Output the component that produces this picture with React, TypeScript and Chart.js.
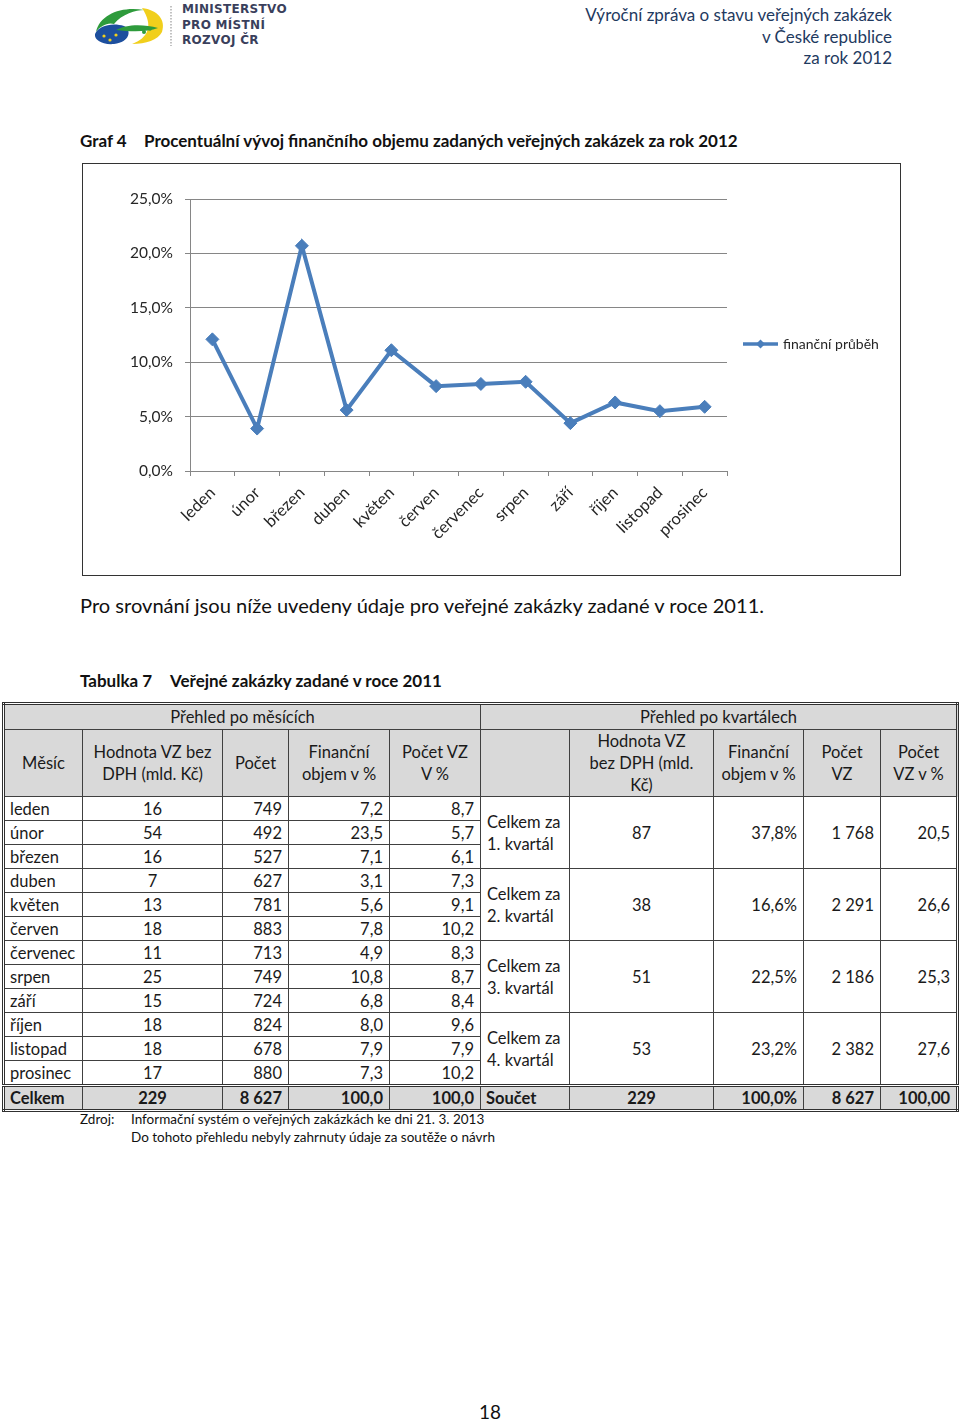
import React, { useEffect, useRef } from "react";
import { Chart, registerables } from "chart.js";

Chart.register(...registerables);

// ---------- chart data ----------
const months = ["leden", "únor", "březen", "duben", "květen", "červen", "červenec", "srpen", "září", "říjen", "listopad", "prosinec"];
const financialShare = [12.1, 3.9, 20.7, 5.6, 11.1, 7.8, 8.0, 8.2, 4.4, 6.3, 5.5, 5.9];
const seriesLabel = "finanční průběh";
const yMin = 0;
const yMax = 25;
const yStep = 5;

// ---------- table data (2011) ----------
const tableMonths = ["leden", "únor", "březen", "duben", "květen", "červen", "červenec", "srpen", "září", "říjen", "listopad", "prosinec"];
const monthValue = ["16", "54", "16", "7", "13", "18", "11", "25", "15", "18", "18", "17"];
const monthCount = ["749", "492", "527", "627", "781", "883", "713", "749", "724", "824", "678", "880"];
const monthFinPct = ["7,2", "23,5", "7,1", "3,1", "5,6", "7,8", "4,9", "10,8", "6,8", "8,0", "7,9", "7,3"];
const monthCountPct = ["8,7", "5,7", "6,1", "7,3", "9,1", "10,2", "8,3", "8,7", "8,4", "9,6", "7,9", "10,2"];
const quarterLabels = ["1. kvartál", "2. kvartál", "3. kvartál", "4. kvartál"];
const quarterValue = ["87", "38", "51", "53"];
const quarterFinPct = ["37,8%", "16,6%", "22,5%", "23,2%"];
const quarterCount = ["1 768", "2 291", "2 186", "2 382"];
const quarterCountPct = ["20,5", "26,6", "25,3", "27,6"];
const totalRow = ["Celkem", "229", "8 627", "100,0", "100,0", "Součet", "229", "100,0%", "8 627", "100,00"];

const FONT = "Lato, 'Noto Sans', 'DejaVu Sans', sans-serif";
const LINE_COLOR = "#4a7ebb";
const AXIS_COLOR = "#868686";
const TEXT_COLOR = "#262626";

const sideLegend = {
  id: "sideLegend",
  afterDraw(chart: any) {
    const ctx = chart.ctx;
    const area = chart.chartArea;
    const x0 = area.right + 16;
    const x1 = x0 + 35;
    const y = area.top + 145;
    ctx.save();
    ctx.strokeStyle = LINE_COLOR;
    ctx.lineWidth = 3.5;
    ctx.beginPath();
    ctx.moveTo(x0, y);
    ctx.lineTo(x1, y);
    ctx.stroke();
    const cx = (x0 + x1) / 2;
    ctx.fillStyle = LINE_COLOR;
    ctx.beginPath();
    ctx.moveTo(cx, y - 4.5);
    ctx.lineTo(cx + 4.5, y);
    ctx.lineTo(cx, y + 4.5);
    ctx.lineTo(cx - 4.5, y);
    ctx.closePath();
    ctx.fill();
    ctx.fillStyle = TEXT_COLOR;
    ctx.font = `14px ${FONT}`;
    ctx.textBaseline = "middle";
    ctx.textAlign = "left";
    ctx.fillText(chart.data.datasets[0].label, x1 + 5, y);
    ctx.restore();
  },
};

function LineChart() {
  const ref = useRef<HTMLCanvasElement>(null);
  useEffect(() => {
    if (!ref.current) return;
    const chart = new Chart(ref.current, {
      type: "line",
      data: {
        labels: months,
        datasets: [
          {
            label: seriesLabel,
            data: financialShare,
            borderColor: LINE_COLOR,
            backgroundColor: LINE_COLOR,
            borderWidth: 4,
            pointStyle: "rectRot",
            pointRadius: 6.5,
            pointBorderWidth: 1,
            pointBackgroundColor: LINE_COLOR,
            pointBorderColor: LINE_COLOR,
            tension: 0,
          },
        ],
      },
      options: {
        animation: false,
        responsive: false,
        maintainAspectRatio: false,
        layout: { padding: { left: 0, right: 172, top: 35, bottom: 0 } },
        plugins: { legend: { display: false }, tooltip: { enabled: false } },
        scales: {
          x: {
            offset: true,
            grid: { display: true, offset: true, drawOnChartArea: false, drawTicks: true, tickLength: 5, color: AXIS_COLOR },
            border: { display: true, color: AXIS_COLOR },
            ticks: { color: TEXT_COLOR, font: { family: FONT, size: 16.5 }, minRotation: 45, maxRotation: 45, padding: 7, autoSkip: false },
            afterFit: (s: any) => { s.height = 104; },
          },
          y: {
            min: yMin,
            max: yMax,
            ticks: {
              stepSize: yStep,
              color: TEXT_COLOR,
              font: { family: FONT, size: 15.5 },
              padding: 12,
              callback: (v: any) => Number(v).toFixed(1).replace(".", ",") + "%",
            },
            grid: { color: AXIS_COLOR, drawTicks: true, tickLength: 5 },
            border: { display: true, color: AXIS_COLOR },
            afterFit: (s: any) => { s.width = 107; },
          },
        },
      },
      plugins: [sideLegend],
    });
    return () => chart.destroy();
  }, []);
  return <canvas ref={ref} width={816} height={411} style={{ position: "absolute", left: 0, top: 0, width: 816, height: 411 }} />;
}

const abs = (left: number, top: number, extra: React.CSSProperties = {}): React.CSSProperties => ({
  position: "absolute",
  left,
  top,
  whiteSpace: "nowrap",
  ...extra,
});

function Logo() {
  return (
    <svg style={{ position: "absolute", left: 92, top: 2 }} width={80} height={46} viewBox="0 0 80 46">
      <path d="M4 30 C 8 12, 30 4, 52 8 C 44 8, 30 12, 22 22 C 16 20, 8 24, 4 30 Z" fill="#2e9b3c" />
      <path d="M3 32 C 6 24, 20 20, 32 24 C 40 28, 38 40, 22 42 C 10 43, 2 38, 3 32 Z" fill="#1d4f9e" />
      <path d="M50 6 C 66 8, 74 18, 70 30 C 66 38, 54 42, 40 42 C 56 36, 62 24, 50 6 Z" fill="#f1cf1c" />
      <path d="M24 28 C 34 22, 52 22, 66 26 C 56 30, 40 30, 24 28 Z" fill="#2e9b3c" />
      <circle cx="12" cy="34" r="1.6" fill="#f1cf1c" />
      <circle cx="18" cy="38" r="1.6" fill="#f1cf1c" />
      <circle cx="24" cy="33" r="1.6" fill="#f1cf1c" />
      <circle cx="52" cy="30" r="2" fill="#2e9b3c" />
      <circle cx="58" cy="27" r="1.8" fill="#2e9b3c" />
      <line x1="79" y1="4" x2="79" y2="44" stroke="#999" strokeWidth="1.2" strokeDasharray="1.5 1.5" />
    </svg>
  );
}

const cellBorder = "1px solid #404040";
const grey = "#d9d9d9";

function DataTable() {
  const td = (align: "left" | "center" | "right", extra: React.CSSProperties = {}): React.CSSProperties => ({
    border: cellBorder,
    textAlign: align,
    padding: align === "left" ? "0 0 0 5px" : align === "right" ? "0 6px 0 0" : "0",
    height: 23,
    lineHeight: "22px",
    verticalAlign: "middle",
    overflow: "hidden",
    whiteSpace: "nowrap",
    ...extra,
  });
  const th = (extra: React.CSSProperties = {}): React.CSSProperties => ({
    border: cellBorder,
    background: grey,
    fontWeight: "normal",
    textAlign: "center",
    verticalAlign: "middle",
    lineHeight: "22px",
    padding: 0,
    ...extra,
  });
  const colW = [79, 140, 66, 101, 91, 89, 144, 90, 77, 77];
  const totalAlign: ("left" | "center" | "right")[] = ["left", "center", "right", "right", "right", "left", "center", "right", "right", "right"];
  return (
    <table
      style={{
        position: "absolute",
        left: 2,
        top: 702,
        width: 956,
        borderCollapse: "collapse",
        tableLayout: "fixed",
        border: "3px double #303030",
        fontFamily: FONT,
        fontSize: 16.5,
        color: "#1a1a1a",
      }}
    >
      <colgroup>
        {colW.map((w, i) => (
          <col key={i} style={{ width: w }} />
        ))}
      </colgroup>
      <thead>
        <tr style={{ height: 25 }}>
          <th colSpan={5} style={th({ height: 24 })}>Přehled po měsících</th>
          <th colSpan={5} style={th({ height: 24 })}>Přehled po kvartálech</th>
        </tr>
        <tr style={{ height: 66 }}>
          <th style={th()}>Měsíc</th>
          <th style={th()}>Hodnota VZ bez<br />DPH (mld. Kč)</th>
          <th style={th()}>Počet</th>
          <th style={th()}>Finanční<br />objem v %</th>
          <th style={th()}>Počet VZ<br />V %</th>
          <th style={th()}></th>
          <th style={th()}>Hodnota VZ<br />bez DPH (mld.<br />Kč)</th>
          <th style={th()}>Finanční<br />objem v %</th>
          <th style={th()}>Počet<br />VZ</th>
          <th style={th()}>Počet<br />VZ v %</th>
        </tr>
      </thead>
      <tbody>
        {tableMonths.map((m, i) => {
          const q = Math.floor(i / 3);
          const first = i % 3 === 0;
          return (
            <tr key={m} style={{ height: 24 }}>
              <td style={td("left")}>{m}</td>
              <td style={td("center")}>{monthValue[i]}</td>
              <td style={td("right")}>{monthCount[i]}</td>
              <td style={td("right")}>{monthFinPct[i]}</td>
              <td style={td("right")}>{monthCountPct[i]}</td>
              {first && (
                <>
                  <td rowSpan={3} style={td("left", { lineHeight: "22px", paddingLeft: 6 })}>
                    Celkem za<br />{quarterLabels[q]}
                  </td>
                  <td rowSpan={3} style={td("center")}>{quarterValue[q]}</td>
                  <td rowSpan={3} style={td("right")}>{quarterFinPct[q]}</td>
                  <td rowSpan={3} style={td("right")}>{quarterCount[q]}</td>
                  <td rowSpan={3} style={td("right")}>{quarterCountPct[q]}</td>
                </>
              )}
            </tr>
          );
        })}
        <tr style={{ height: 23 }}>
          {totalRow.map((t, i) => (
            <td key={i} style={td(totalAlign[i], { background: grey, fontWeight: "bold", borderTop: "3px double #303030", height: 21 })}>
              {t}
            </td>
          ))}
        </tr>
      </tbody>
    </table>
  );
}

export default function App() {
  const headerStyle: React.CSSProperties = { fontFamily: FONT, fontSize: 17, color: "#1f3a5f", lineHeight: "21.5px", textAlign: "right" };
  return (
    <div style={{ position: "absolute", left: 0, top: 0, width: 960, height: 1420, background: "#fff", fontFamily: FONT, color: "#111" }}>
      <Logo />
      <div style={abs(182, 2, { fontFamily: "'DejaVu Sans', sans-serif", fontWeight: "bold", fontSize: 12, lineHeight: "15.5px", color: "#3a3f5c", letterSpacing: 0.3 })}>
        MINISTERSTVO<br />PRO MÍSTNÍ<br />ROZVOJ ČR
      </div>
      <div style={{ position: "absolute", right: 960 - 892, top: 4, ...headerStyle, whiteSpace: "nowrap" }}>
        Výroční zpráva o stavu veřejných zakázek<br />v České republice<br />za rok 2012
      </div>

      <div style={abs(80, 130, { fontWeight: "bold", fontSize: 17, lineHeight: "22px" })}>Graf 4</div>
      <div style={abs(144, 130, { fontWeight: "bold", fontSize: 17, lineHeight: "22px" })}>
        Procentuální vývoj finančního objemu zadaných veřejných zakázek za rok 2012
      </div>

      <div style={{ position: "absolute", left: 82, top: 163, width: 817, height: 411, border: "1px solid #333", boxSizing: "content-box" }}>
        <LineChart />
      </div>

      <div style={abs(80, 593, { fontSize: 20.1, lineHeight: "24px" })}>
        Pro srovnání jsou níže uvedeny údaje pro veřejné zakázky zadané v roce 2011.
      </div>

      <div style={abs(80, 670, { fontWeight: "bold", fontSize: 17, lineHeight: "22px" })}>Tabulka 7</div>
      <div style={abs(170, 670, { fontWeight: "bold", fontSize: 17, lineHeight: "22px" })}>Veřejné zakázky zadané v roce 2011</div>

      <DataTable />

      <div style={abs(80, 1110, { fontSize: 13.5, lineHeight: "18px" })}>Zdroj:</div>
      <div style={abs(131, 1110, { fontSize: 13.5, lineHeight: "18px" })}>
        Informační systém o veřejných zakázkách ke dni 21. 3. 2013<br />Do tohoto přehledu nebyly zahrnuty údaje za soutěže o návrh
      </div>

      <div style={{ position: "absolute", left: 440, width: 100, top: 1400, textAlign: "center", fontSize: 19, lineHeight: "24px" }}>18</div>
    </div>
  );
}
